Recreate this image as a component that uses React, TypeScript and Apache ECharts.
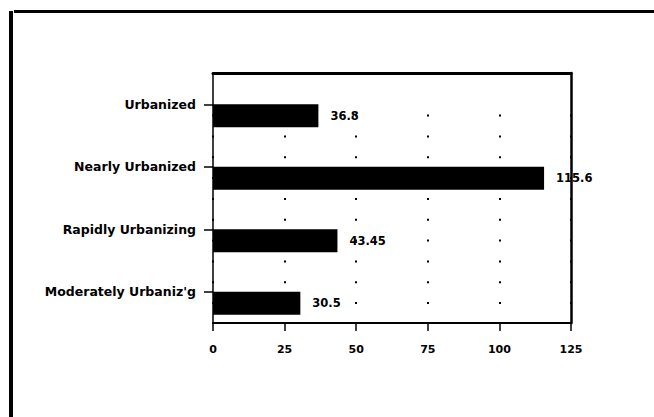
import React, { useEffect, useRef } from "react";
import * as echarts from "echarts";

const categories = ["Urbanized", "Nearly Urbanized", "Rapidly Urbanizing", "Moderately Urbaniz'g"];
const values = [36.8, 115.6, 43.45, 30.5];
const spacer = [0, 0, 0, 0];
const xMin = 0;
const xMax = 125;
const xInterval = 25;

const dotPattern: number[] = [0, 41.6];
for (let i = 0; i < 11; i++) dotPattern.push(2, 18.83);

export default function App() {
  const ref = useRef<HTMLDivElement>(null);
  useEffect(() => {
    if (!ref.current) return;
    const chart = echarts.init(ref.current, null, { renderer: "svg" });
    const font = "DejaVu Sans";
    chart.setOption({
      animation: false,
      backgroundColor: "#ffffff",
      grid: { left: 213, right: 83, top: 73, bottom: 94, containLabel: false },
      xAxis: [
        {
          type: "value",
          min: xMin,
          max: xMax,
          interval: xInterval,
          position: "bottom",
          axisLine: { show: true, lineStyle: { color: "#000", width: 2 } },
          axisTick: { show: true, length: 8, lineStyle: { color: "#000", width: 1.5 } },
          axisLabel: { color: "#000", fontFamily: font, fontWeight: "bold", fontSize: 11, margin: 21 },
          splitLine: { show: true, lineStyle: { color: "#000", width: 2, type: dotPattern } },
        },
        {
          type: "value",
          min: xMin,
          max: xMax,
          interval: xInterval,
          position: "top",
          axisLine: { show: true, lineStyle: { color: "#000", width: 3 } },
          axisTick: { show: false },
          axisLabel: { show: false },
          splitLine: { show: false },
        },
      ],
      yAxis: [
        {
          type: "category",
          data: categories,
          inverse: true,
          position: "left",
          axisLine: { show: true, onZero: false, lineStyle: { color: "#000", width: 1.5 } },
          axisTick: { show: true, alignWithLabel: true, length: 9, lineStyle: { color: "#000", width: 1.5 } },
          axisLabel: { color: "#000", fontFamily: font, fontWeight: "bold", fontSize: 12.5, margin: 17 },
        },
        {
          type: "category",
          data: categories,
          inverse: true,
          position: "right",
          axisLine: { show: true, onZero: false, lineStyle: { color: "#000", width: 2.5 } },
          axisTick: { show: false },
          axisLabel: { show: false },
        },
      ],
      series: [
        {
          type: "bar",
          data: spacer,
          barWidth: 23,
          barGap: "0%",
          silent: true,
          itemStyle: { color: "rgba(0,0,0,0)" },
          label: { show: false },
        },
        {
          type: "bar",
          data: values,
          barWidth: 23,
          barGap: "0%",
          itemStyle: { color: "#000" },
          label: {
            show: true,
            position: "right",
            distance: 12,
            color: "#000",
            fontFamily: font,
            fontWeight: "bold",
            fontSize: 11.5,
            formatter: (p: any) => String(p.value),
          },
        },
      ],
      graphic: [
        { type: "line", shape: { x1: 14, y1: 11.5, x2: 654, y2: 11.5 }, style: { stroke: "#000", lineWidth: 3 } },
        { type: "line", shape: { x1: 11, y1: 11, x2: 11, y2: 417 }, style: { stroke: "#000", lineWidth: 4 } },
      ],
    });
    return () => chart.dispose();
  }, []);
  return (
    <div
      ref={ref}
      style={{ position: "fixed", left: 0, top: 0, width: 654, height: 417, background: "#fff" }}
    />
  );
}
